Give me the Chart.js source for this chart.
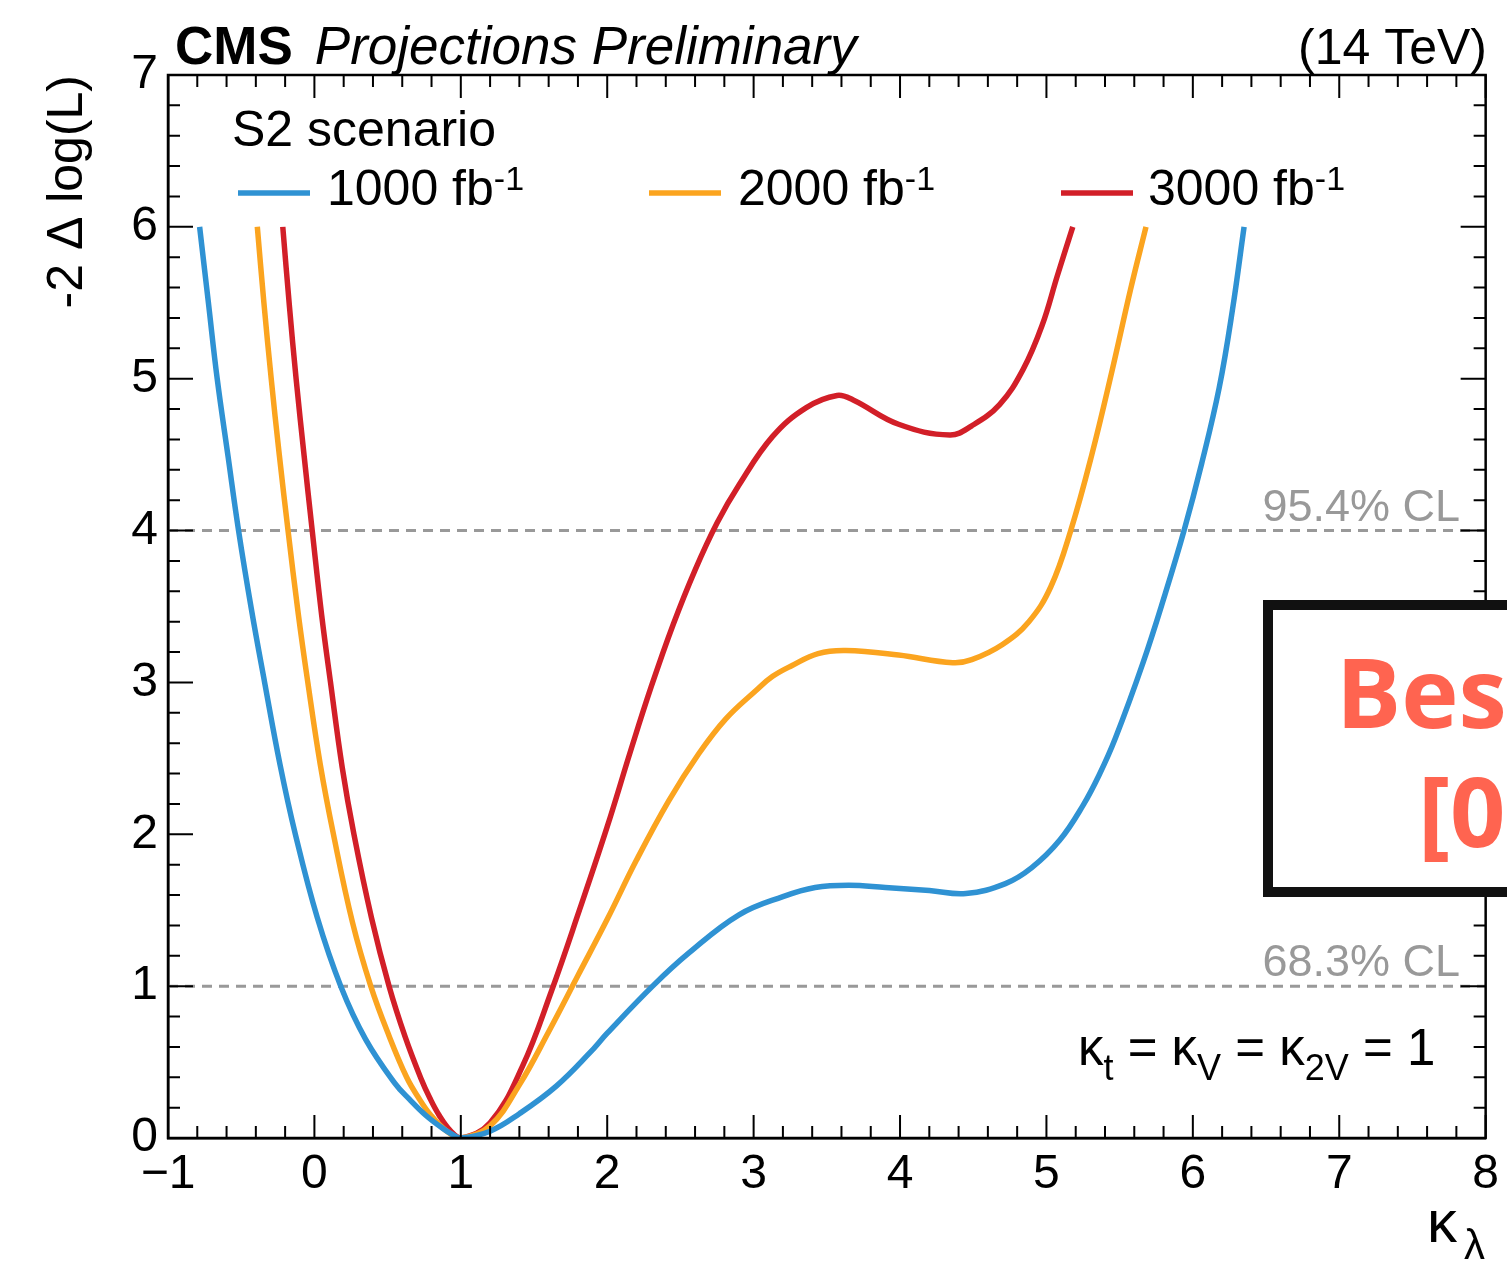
<!DOCTYPE html>
<html>
<head>
<meta charset="utf-8">
<script src="https://cdn.jsdelivr.net/npm/chart.js@4.4.1/dist/chart.umd.min.js"></script>
<style>
  html, body { margin: 0; padding: 0; background: #fff; overflow: hidden; }
  #wrap { width: 1507px; height: 1263px; }
</style>
</head>
<body>
<div id="wrap"><canvas id="chart" width="1507" height="1263"></canvas></div>
<script>
// -2 Delta log(L) scans vs kappa_lambda

const kl1000 = [-0.784, -0.724, -0.664, -0.59, -0.518, -0.43, -0.34, -0.235, -0.13, 0.02, 0.18, 0.35, 0.55, 0.65, 0.76, 0.88, 0.94, 1.0,
  1.2, 1.4, 1.65, 1.88, 2.0, 2.31, 2.56, 2.9, 3.2, 3.42, 3.65, 3.9, 4.2, 4.45, 4.72, 4.9, 5.09, 5.25, 5.36, 5.47, 5.66, 5.81, 5.94, 6.06, 6.18, 6.27, 6.35];
const nll1000 = [6.0, 5.5, 5.0, 4.49, 4.0, 3.48, 3.0, 2.46, 2.0, 1.45, 1.0, 0.65, 0.36, 0.254, 0.15, 0.061, 0.025, 0.0,
  0.045, 0.16, 0.34, 0.56, 0.69, 1.0, 1.22, 1.47, 1.59, 1.65, 1.665, 1.65, 1.63, 1.61, 1.675, 1.78, 1.96, 2.19, 2.39, 2.63, 3.13, 3.58, 4.0, 4.44, 4.94, 5.45, 6.0];

const kl2000 = [-0.39, -0.345, -0.295, -0.24, -0.18, -0.11, -0.045, 0.04, 0.13, 0.26, 0.385, 0.51, 0.63, 0.71, 0.795, 0.9, 1.0,
  1.2, 1.4, 1.6, 1.8, 2.0, 2.2, 2.42, 2.625, 2.81, 3.02, 3.13, 3.26, 3.44, 3.63, 3.99, 4.36, 4.49, 4.7, 4.88, 5.03, 5.166, 5.31, 5.45, 5.575, 5.68];
const nll2000 = [6.0, 5.5, 5.0, 4.5, 4.0, 3.45, 3.0, 2.46, 2.0, 1.42, 1.0, 0.672, 0.4, 0.267, 0.15, 0.048, 0.0,
  0.08, 0.35, 0.7, 1.07, 1.44, 1.83, 2.22, 2.53, 2.76, 2.95, 3.04, 3.11, 3.19, 3.21, 3.18, 3.13, 3.15, 3.25, 3.4, 3.63, 4.0, 4.5, 5.06, 5.59, 6.0];

const kl3000 = [-0.216, -0.17, -0.125, -0.07, -0.015, 0.05, 0.11, 0.19, 0.27, 0.39, 0.51, 0.62, 0.727, 0.79, 0.852, 0.93, 1.0,
  1.2, 1.42, 1.62, 1.81, 2.0, 2.16, 2.3, 2.45, 2.6, 2.75, 2.9, 3.13, 3.36, 3.57, 3.68, 3.99, 4.34, 4.49, 4.68, 4.84, 4.97, 5.075, 5.18];
const nll3000 = [6.0, 5.47, 5.0, 4.49, 4.0, 3.44, 3.0, 2.44, 2.0, 1.45, 1.0, 0.666, 0.394, 0.26, 0.15, 0.047, 0.0,
  0.1, 0.47, 0.97, 1.5, 2.05, 2.55, 2.97, 3.38, 3.74, 4.05, 4.3, 4.62, 4.81, 4.89, 4.86, 4.7, 4.63, 4.69, 4.83, 5.06, 5.35, 5.68, 6.0];

const lumiLabels = ["1000 fb", "2000 fb", "3000 fb"];
const lumiColors = ["#2f92d3", "#fba41f", "#d21f28"];

const clLevels = [4, 1];
const clLabels = ["95.4% CL", "68.3% CL"];

const xRange = [-1, 8];
const yRange = [0, 7];

const FONT = '"Liberation Sans", Arial, Helvetica, sans-serif';
const NOTE_FONT = '"Open Sans", "Noto Sans", sans-serif';
Chart.defaults.font.family = FONT;

function pts(xs, ys) {
  return xs.map((x, i) => ({ x, y: ys[i] }));
}

const curves = [[kl1000, nll1000], [kl2000, nll2000], [kl3000, nll3000]].map(([xs, ys], i) => ({
  label: lumiLabels[i],
  data: pts(xs, ys),
  borderColor: lumiColors[i],
  borderWidth: 5.5,
  pointRadius: 0,
  tension: 0.4,
  fill: false,
}));

// dashed CL lines go last so they end up underneath
const clLines = clLevels.map((lvl, i) => ({
  label: clLabels[i],
  data: [{ x: xRange[0], y: lvl }, { x: xRange[1], y: lvl }],
  borderColor: "#999999",
  borderWidth: 3,
  borderDash: [10, 7],
  pointRadius: 0,
  tension: 0,
  fill: false,
}));

/* ---------- extra drawing: frame, inward ticks, texts ---------- */

function text(ctx, s, x, y, font, color = "#000", align = "left") {
  ctx.font = font;
  ctx.fillStyle = color;
  ctx.textAlign = align;
  ctx.textBaseline = "alphabetic";
  ctx.fillText(s, x, y);
  return ctx.measureText(s).width;
}

// draws pieces [str, kind] one after the other (kind: "", "sub", "sup")
function runs(ctx, parts, x, y, size, subSize, shift) {
  let cx = x;
  for (const [s, kind] of parts) {
    if (kind === "sub") cx += text(ctx, s, cx, y + shift, `${subSize}px ${FONT}`);
    else if (kind === "sup") cx += text(ctx, s, cx, y - shift, `${subSize}px ${FONT}`);
    else cx += text(ctx, s, cx, y, `${size}px ${FONT}`);
  }
  return cx;
}

const decor = {
  id: "decor",
  afterDraw(chart) {
    const { ctx, chartArea: a, scales: { x, y } } = chart;
    ctx.save();

    // frame
    ctx.strokeStyle = "#000";
    ctx.lineWidth = 2.5;
    ctx.strokeRect(a.left, a.top, a.right - a.left, a.bottom - a.top);

    // ROOT-style ticks pointing inward on all four sides
    ctx.lineWidth = 2;
    ctx.beginPath();
    for (let i = 0; i <= (xRange[1] - xRange[0]) * 5; i++) {
      const px = x.getPixelForValue(xRange[0] + i * 0.2);
      const len = i % 5 === 0 ? 23 : 12;
      ctx.moveTo(px, a.bottom); ctx.lineTo(px, a.bottom - len);
      ctx.moveTo(px, a.top); ctx.lineTo(px, a.top + len);
    }
    for (let i = 0; i <= (yRange[1] - yRange[0]) * 5; i++) {
      const py = y.getPixelForValue(yRange[0] + i * 0.2);
      const len = i % 5 === 0 ? 25 : 12;
      ctx.moveTo(a.left, py); ctx.lineTo(a.left + len, py);
      ctx.moveTo(a.right, py); ctx.lineTo(a.right - len, py);
    }
    ctx.stroke();

    // header
    const w = text(ctx, "CMS", 175, 64, `bold 53px ${FONT}`);
    text(ctx, "Projections Preliminary", 175 + w + 22, 64, `italic 53px ${FONT}`);
    text(ctx, "(14 TeV)", 1487, 64, `50px ${FONT}`, "#000", "right");

    // legend
    text(ctx, "S2 scenario", 232, 146, `50px ${FONT}`);
    const lineX = [238, 649, 1061];
    const txtX = [327, 738, 1148];
    lumiLabels.forEach((lab, i) => {
      ctx.strokeStyle = lumiColors[i];
      ctx.lineWidth = 5.5;
      ctx.beginPath();
      ctx.moveTo(lineX[i], 193); ctx.lineTo(lineX[i] + 72, 193);
      ctx.stroke();
      runs(ctx, [[lab, ""], ["-1", "sup"]], txtX[i], 205, 50, 34, 15);
    });

    // CL labels
    clLevels.forEach((lvl, i) => {
      text(ctx, clLabels[i], 1460, y.getPixelForValue(lvl) - 10, `45px ${FONT}`, "#999999", "right");
    });

    // coupling note
    runs(ctx, [["\u03ba", ""], ["t", "sub"], [" = \u03ba", ""], ["V", "sub"], [" = \u03ba", ""], ["2V", "sub"], [" = 1", ""]],
      1078, 1065, 51, 36, 15);

    // axis titles
    text(ctx, "\u03ba", 1427, 1242, `60px ${FONT}`);
    text(ctx, "\u03bb", 1464, 1259, `42px ${FONT}`);

    ctx.save();
    ctx.translate(82, 75);
    ctx.rotate(-Math.PI / 2);
    text(ctx, "-2 \u0394 log(L)", 0, 0, `50px ${FONT}`, "#000", "right");
    ctx.restore();

    // pasted-on annotation box (cut by the right page edge)
    ctx.fillStyle = "#fff";
    ctx.fillRect(1268, 605, 420, 287);
    ctx.strokeStyle = "#111";
    ctx.lineWidth = 10;
    ctx.strokeRect(1268, 605, 420, 287);
    ctx.lineWidth = 2;
    ctx.strokeRect(1264, 601, 428, 295);
    text(ctx, "Best fit", 1336, 728, `bold 97px ${NOTE_FONT}`, "#ff6450");
    text(ctx, "[0.5, 1.6]", 1418, 847, `bold 97px ${NOTE_FONT}`, "#ff6450");

    ctx.restore();
  },
};

new Chart(document.getElementById("chart").getContext("2d"), {
  type: "line",
  data: { datasets: [...curves, ...clLines] },
  options: {
    responsive: false,
    animation: false,
    devicePixelRatio: 1,
    layout: { padding: { left: 0, right: 20, top: 75, bottom: 0 } },
    plugins: { legend: { display: false }, tooltip: { enabled: false } },
    scales: {
      x: {
        type: "linear",
        min: xRange[0],
        max: xRange[1],
        grid: { display: false, drawTicks: false },
        border: { display: true, color: "#000", width: 2.5 },
        ticks: {
          stepSize: 1,
          padding: 8,
          color: "#000",
          maxRotation: 0,
          font: { size: 48 },
          callback: v => String(v).replace("-", "\u2212"),
        },
        afterFit: s => { s.height = 125; },
      },
      y: {
        type: "linear",
        min: yRange[0],
        max: yRange[1],
        grid: { display: false, drawTicks: false },
        border: { display: true, color: "#000", width: 2.5 },
        ticks: { stepSize: 1, padding: 10, color: "#000", font: { size: 48 } },
        afterFit: s => { s.width = 168; },
      },
    },
  },
  plugins: [decor],
});
</script>
</body>
</html>
